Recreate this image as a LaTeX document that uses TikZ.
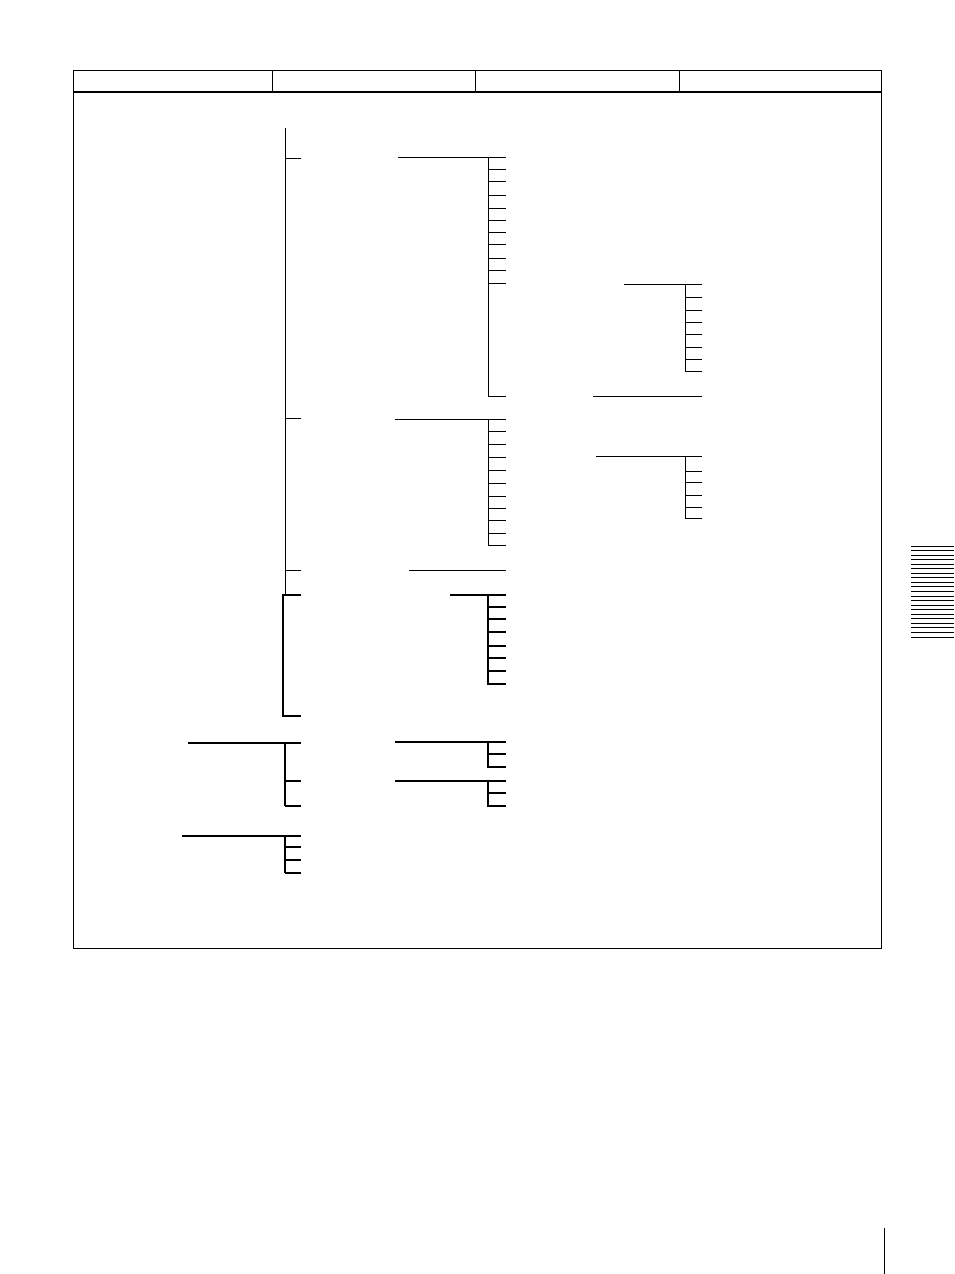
\documentclass[tikz,border=0pt]{standalone}
\usepackage{tikz}

\begin{document}
\begin{tikzpicture}[x=1pt,y=-1pt,
    menuline/.style={line width=1pt},
    boldline/.style={line width=2pt},
    heavyline/.style={line width=2.4pt}]
  \useasboundingbox (0,0) rectangle (954,1274);

  % frame and header row
  \draw[menuline] (73,70) rectangle (881,948);
  \draw[boldline] (73,92) -- (881,92);
  \foreach \x in {272,475,679}
    \draw[menuline] (\x,70) -- (\x,92);

  % first level spine
  \coordinate (spine top) at (285,128);
  \coordinate (spine end) at (285,595);
  \draw[menuline] (spine top) -- (spine end);
  \foreach \y in {158,418,570}
    \draw[menuline] (285,\y) -- (301,\y);

  % first group, second level
  \coordinate (grpA) at (398,157);
  \draw[menuline] (grpA) -- (506,157);
  \draw[menuline] (488,157) -- (488,396) -- (506,396);
  \foreach \y in {169,181,195,208,220,232,244,258,270,283}
    \draw[menuline] (488,\y) -- (506,\y);

  % third level off the first group
  \coordinate (subA) at (624,284);
  \draw[menuline] (subA) -- (702,284);
  \draw[menuline] (685,284) -- (685,371) -- (702,371);
  \foreach \y in {297,310,322,334,347,359}
    \draw[menuline] (685,\y) -- (702,\y);
  \coordinate (subB) at (593,396);
  \draw[menuline] (subB) -- (702,396);

  % second group
  \coordinate (grpB) at (395,419);
  \draw[menuline] (grpB) -- (506,419);
  \draw[menuline] (488,419) -- (488,545) -- (506,545);
  \foreach \y in {431,444,457,470,483,496,508,520,533}
    \draw[menuline] (488,\y) -- (506,\y);
  \coordinate (subC) at (596,456);
  \draw[menuline] (subC) -- (702,456);
  \draw[menuline] (685,456) -- (685,518) -- (702,518);
  \foreach \y in {471,482,495,507}
    \draw[menuline] (685,\y) -- (702,\y);

  % single item
  \coordinate (grpC) at (409,570);
  \draw[menuline] (grpC) -- (506,570);

  % bold bracket
  \draw[boldline] (301,595) -- (283,595) -- (283,716) -- (301,716);
  \coordinate (grpD) at (450,595);
  \draw[boldline] (grpD) -- (506,595);
  \draw[boldline] (488,595) -- (488,684) -- (506,684);
  \foreach \y in {607,619,632,646,658,671}
    \draw[boldline] (488,\y) -- (506,\y);

  % lower blocks
  \coordinate (rootE) at (188,743);
  \draw[boldline] (rootE) -- (301,743);
  \draw[heavyline] (285,743) -- (285,806);
  \foreach \y in {781,806}
    \draw[boldline] (285,\y) -- (301,\y);
  \coordinate (grpE) at (395,742);
  \draw[boldline] (grpE) -- (506,742);
  \draw[boldline] (488,742) -- (488,767) -- (506,767);
  \draw[boldline] (488,754) -- (506,754);
  \coordinate (grpF) at (395,781);
  \draw[boldline] (grpF) -- (506,781);
  \draw[boldline] (488,781) -- (488,806) -- (506,806);
  \draw[boldline] (488,793) -- (506,793);

  \coordinate (rootF) at (182,836);
  \draw[boldline] (rootF) -- (301,836);
  \draw[heavyline] (285,836) -- (285,873);
  \foreach \y in {847,860,873}
    \draw[boldline] (285,\y) -- (301,\y);

  % thumb index and page mark
  \foreach \i in {0,...,20}
    \draw[menuline] (911,546+\i*4.55) -- (954,546+\i*4.55);
  \draw[menuline] (884,1228) -- (884,1274);
\end{tikzpicture}
\end{document}
